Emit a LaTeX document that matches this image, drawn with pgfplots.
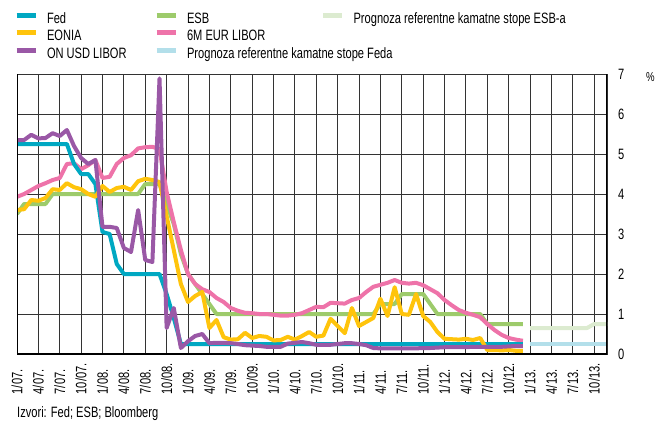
\documentclass[border=0pt]{standalone}
\usepackage{fontspec}
\setmainfont{Liberation Sans}[FakeStretch=0.74]
\usepackage{pgfplots}
\usepackage{pgfplotstable}
\pgfplotsset{compat=1.18}

\definecolor{cFed}{HTML}{00A8C2}
\definecolor{cEonia}{HTML}{FFC40C}
\definecolor{cOnUsd}{HTML}{9A58A6}
\definecolor{cEsb}{HTML}{9DCB6B}
\definecolor{cEur}{HTML}{EE73A9}
\definecolor{cPrEsb}{HTML}{DCEBD0}
\definecolor{cPrFed}{HTML}{B3DFEA}

% months from 1/07 (=0)
\pgfplotstableread{
m  fed  eonia onusd esb  eur
0  5.25 3.60 5.35 3.50 3.93
1  5.25 3.62 5.35 3.75 4.00
2  5.25 3.85 5.48 3.75 4.10
3  5.25 3.83 5.39 3.75 4.20
4  5.25 3.90 5.40 3.75 4.27
5  5.25 4.12 5.52 4.00 4.35
6  5.25 4.10 5.45 4.00 4.40
7  5.25 4.27 5.60 4.00 4.75
8  4.75 4.17 5.20 4.00 4.77
9  4.50 4.12 4.90 4.00 4.62
10 4.50 4.00 4.75 4.00 4.72
11 4.25 3.93 4.85 4.00 4.85
12 3.05 4.20 3.18 4.00 4.40
13 3.00 4.05 3.18 4.00 4.43
14 2.25 4.15 3.15 4.00 4.75
15 2.00 4.18 2.65 4.00 4.90
16 2.00 4.10 2.55 4.00 4.97
17 2.00 4.32 3.60 4.00 5.14
18 2.00 4.38 2.35 4.25 5.17
19 2.00 4.35 2.30 4.25 5.18
20 2.00 4.30 6.89 4.25 5.12
21 1.50 3.45 0.65 3.75 4.05
22 0.90 2.60 1.15 3.25 3.30
23 0.25 1.75 0.15 2.50 2.60
24 0.25 1.30 0.32 2.00 2.00
25 0.25 1.45 0.45 1.75 1.75
26 0.25 1.55 0.50 1.50 1.62
27 0.25 0.65 0.27 1.25 1.55
28 0.25 0.85 0.28 1.00 1.40
29 0.25 0.42 0.28 1.00 1.30
30 0.25 0.36 0.27 1.00 1.15
31 0.25 0.37 0.25 1.00 1.08
32 0.25 0.53 0.22 1.00 1.03
33 0.25 0.40 0.21 1.00 1.02
34 0.25 0.45 0.20 1.00 1.00
35 0.25 0.43 0.18 1.00 1.00
36 0.25 0.34 0.18 1.00 0.98
37 0.25 0.35 0.18 1.00 0.96
38 0.25 0.43 0.26 1.00 0.96
39 0.25 0.36 0.28 1.00 0.98
40 0.25 0.45 0.30 1.00 1.02
41 0.25 0.55 0.27 1.00 1.10
42 0.25 0.43 0.23 1.00 1.18
43 0.25 0.46 0.23 1.00 1.17
44 0.25 0.88 0.23 1.00 1.28
45 0.25 0.70 0.25 1.00 1.27
46 0.25 0.52 0.27 1.00 1.26
47 0.25 1.15 0.27 1.00 1.35
48 0.25 0.70 0.25 1.00 1.40
49 0.25 0.80 0.22 1.00 1.55
50 0.25 0.90 0.15 1.00 1.68
51 0.25 1.38 0.14 1.25 1.73
52 0.25 0.95 0.14 1.25 1.78
53 0.25 1.67 0.14 1.25 1.85
54 0.25 1.00 0.14 1.50 1.78
55 0.25 0.98 0.14 1.50 1.76
56 0.25 1.50 0.14 1.50 1.78
57 0.25 0.95 0.15 1.50 1.72
58 0.25 0.80 0.15 1.25 1.62
59 0.25 0.55 0.16 1.00 1.52
60 0.25 0.38 0.17 1.00 1.35
61 0.25 0.37 0.17 1.00 1.22
62 0.25 0.36 0.17 1.00 1.10
63 0.25 0.38 0.17 1.00 1.03
64 0.25 0.35 0.18 1.00 0.98
65 0.25 0.40 0.18 1.00 0.92
66 0.25 0.10 0.18 0.75 0.75
67 0.25 0.10 0.18 0.75 0.60
68 0.25 0.09 0.18 0.75 0.48
69 0.25 0.10 0.19 0.75 0.40
70 0.25 0.08 0.20 0.75 0.36
71 0.25 0.08 0.20 0.75 0.33
}\rates

\begin{document}
\fontsize{15bp}{18bp}\selectfont
\begin{tikzpicture}
\path[use as bounding box] (-17bp,-68bp) rectangle (638bp,354bp);
\begin{axis}[
  scale only axis, width=590bp, height=280bp,
  xmin=0, xmax=82.8, ymin=0, ymax=7,
  xtick={0,3,...,81},
  xticklabels={1/07.,4/07.,7/07.,10/07.,1/08.,4/08.,7/08.,10/08.,
    1/09.,4/09.,7/09.,10/09.,1/10.,4/10.,7/10.,10/10.,
    1/11.,4/11.,7/11.,10/11.,1/12.,4/12.,7/12.,10/12.,
    1/13.,4/13.,7/13.,10/13.},
  ytick={0,...,7},
  yticklabel pos=right,
  /pgf/number format/assume math mode=true,
  grid=major, major grid style={line width=0.9bp, black!80},
  axis line style={line width=0.9bp, black!80},
  major tick length=0pt,
  xticklabel style={rotate=90, anchor=east, text width=40bp, align=left, inner sep=0pt},
  yticklabel style={anchor=west, inner sep=0pt, xshift=11bp},
  every axis plot/.append style={line width=4bp, line join=round},
  legend style={at={(0,1)}, anchor=north west, xshift=-3bp, yshift=62bp,
    draw=none, fill=none, inner sep=0pt, outer sep=0pt, row sep=3.5bp,
    nodes={inner sep=0pt, text height=11bp, text depth=3bp},
    /tikz/every odd column/.append style={column sep=9bp},
    /tikz/every even column/.append style={column sep=27.5bp}},
  legend cell align=left,
  legend columns=3,
  legend image code/.code={\draw[#1, line width=5bp] (0bp,4bp) -- (19bp,4bp);},
]
\addplot[cEsb, forget plot] table[x=m, y=esb] {\rates};
\addplot[cEur, forget plot] table[x=m, y=eur] {\rates};
\addplot[cFed, forget plot] table[x=m, y=fed] {\rates};
\addplot[cEonia, forget plot] table[x=m, y=eonia] {\rates};
\addplot[cOnUsd, forget plot] table[x=m, y=onusd] {\rates};
\addplot[cPrEsb, forget plot] coordinates {(72,0.65) (80,0.65) (81,0.75) (82.8,0.75)};
\addplot[cPrFed, forget plot] coordinates {(72,0.25) (82.8,0.25)};

\addlegendimage{cFed}\addlegendentry{Fed}
\addlegendimage{cEsb}\addlegendentry{ESB}
\addlegendimage{cPrEsb}\addlegendentry{Prognoza referentne kamatne stope ESB-a}
\addlegendimage{cEonia}\addlegendentry{EONIA}
\addlegendimage{cEur}\addlegendentry{6M EUR LIBOR}
\addlegendimage{empty legend}\addlegendentry{}
\addlegendimage{cOnUsd}\addlegendentry{ON USD LIBOR}
\addlegendimage{cPrFed}\addlegendentry{\makebox[106bp][l]{Prognoza referentne kamatne stope Feda}}

\draw[line width=2bp, black] (rel axis cs:0,0) -- (rel axis cs:1,0) -- (rel axis cs:1,1);
\draw[line width=1.4bp, black] (rel axis cs:0,0) -- (rel axis cs:0,1);
\end{axis}
\node[anchor=west, inner sep=0pt, font=\fontsize{13bp}{15bp}\selectfont] at (629bp,277bp) {\%};
\node[anchor=base west, inner sep=0pt] at (0bp,-63.4bp) {Izvori: Fed; ESB; Bloomberg};
\end{tikzpicture}
\end{document}
